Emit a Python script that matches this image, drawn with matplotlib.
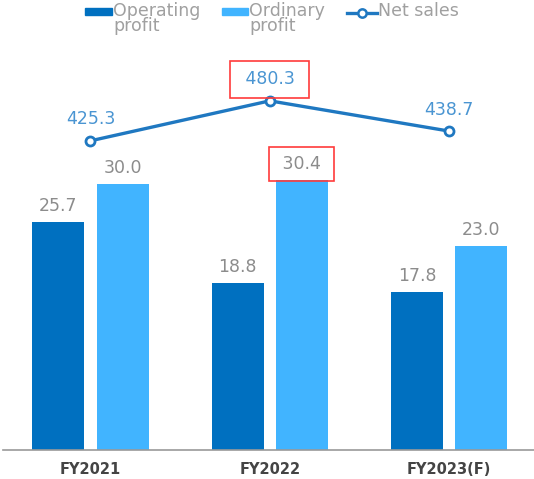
import matplotlib
matplotlib.use('Agg')
import matplotlib.pyplot as plt
from matplotlib.patches import Rectangle
from matplotlib.lines import Line2D
import numpy as np

categories = ['FY2021', 'FY2022', 'FY2023(F)']
operating_profit = [25.7, 18.8, 17.8]
ordinary_profit = [30.0, 30.4, 23.0]
net_sales = [425.3, 480.3, 438.7]

c_op = '#0070C0'
c_ord = '#41B4FF'
c_line = '#1F78C1'
c_lbl = '#4A95D2'
c_gray = '#8C8C8C'
c_red = '#FF3B3B'

plt.rcParams['font.family'] = ['DejaVu Sans']

W, H = 534, 479
fig = plt.figure(figsize=(W / 100, H / 100), dpi=100)
ax = fig.add_axes([3 / W, 29 / H, 531 / W, 450 / H])
ax2 = ax.twinx()

x = np.arange(len(categories))
w = 0.29
off = 0.179
ax.bar(x - off, operating_profit, w, color=c_op, zorder=2)
ax.bar(x + off, ordinary_profit, w, color=c_ord, zorder=2)
ax.set_xlim(-0.488, 2.474)
ax.set_ylim(0, 50.7)

for xi, v in zip(x - off, operating_profit):
    ax.annotate(f'{v:.1f}', (xi, v), xytext=(0, 5), textcoords='offset points',
                ha='center', va='bottom', color=c_gray, fontsize=12.5)
for i, (xi, v) in enumerate(zip(x + off, ordinary_profit)):
    boxed = i == 1
    ax.annotate(f' {v:.1f} ' if boxed else f'{v:.1f}', (xi, v), xytext=(0, 5),
                textcoords='offset points', ha='center', va='bottom',
                color=c_gray, fontsize=12.5,
                bbox=dict(boxstyle='square,pad=0.45', fc='none', ec=c_red, lw=1.2) if boxed else None)

ax2.plot(x, net_sales, color=c_line, lw=2.4, marker='o', ms=6.5, mfc='white', mec=c_line, mew=2, zorder=3)
ax2.set_ylim(0, 619)
for i, (xi, v) in enumerate(zip(x, net_sales)):
    boxed = i == 1
    ax2.annotate(f' {v:.1f} ' if boxed else f'{v:.1f}', (xi, v), xytext=(0, 9),
                 textcoords='offset points', ha='center', va='bottom',
                 color=c_lbl, fontsize=12.5,
                 bbox=dict(boxstyle='square,pad=0.55', fc='none', ec=c_red, lw=1.2) if boxed else None)

for a in (ax, ax2):
    for s in ['top', 'right', 'left']:
        a.spines[s].set_visible(False)
    a.set_yticks([])
ax.spines['bottom'].set_color('#999999')
ax.spines['bottom'].set_linewidth(1.2)
ax2.spines['bottom'].set_visible(False)
ax.set_xticks(x)
ax.set_xticklabels(categories, fontsize=10.5, color='#444444', fontweight='bold')
ax.tick_params(axis='x', length=0, pad=9)

# legend
def fx(px):
    return px / W

def fy(py):
    return 1 - py / H

fig.add_artist(Rectangle((fx(85), fy(15)), 27 / W, 7 / H, color=c_op, transform=fig.transFigure))
fig.add_artist(Rectangle((fx(222), fy(15)), 26 / W, 7 / H, color=c_ord, transform=fig.transFigure))
fig.add_artist(Line2D([fx(347), fx(377)], [fy(12.5), fy(12.5)], color=c_line, lw=2.4,
                      transform=fig.transFigure))
fig.add_artist(Line2D([fx(362)], [fy(12.5)], color=c_line, marker='o', ms=6, mfc='white',
                      mew=1.8, transform=fig.transFigure))
leg_kw = dict(color='#A0A0A0', fontsize=12.5, va='top', ha='left', linespacing=0.8)
fig.text(fx(113), fy(2), 'Operating\nprofit', **leg_kw)
fig.text(fx(249), fy(2), 'Ordinary\nprofit', **leg_kw)
fig.text(fx(378), fy(2), 'Net sales', **leg_kw)

fig.savefig('out.png', dpi=100)
